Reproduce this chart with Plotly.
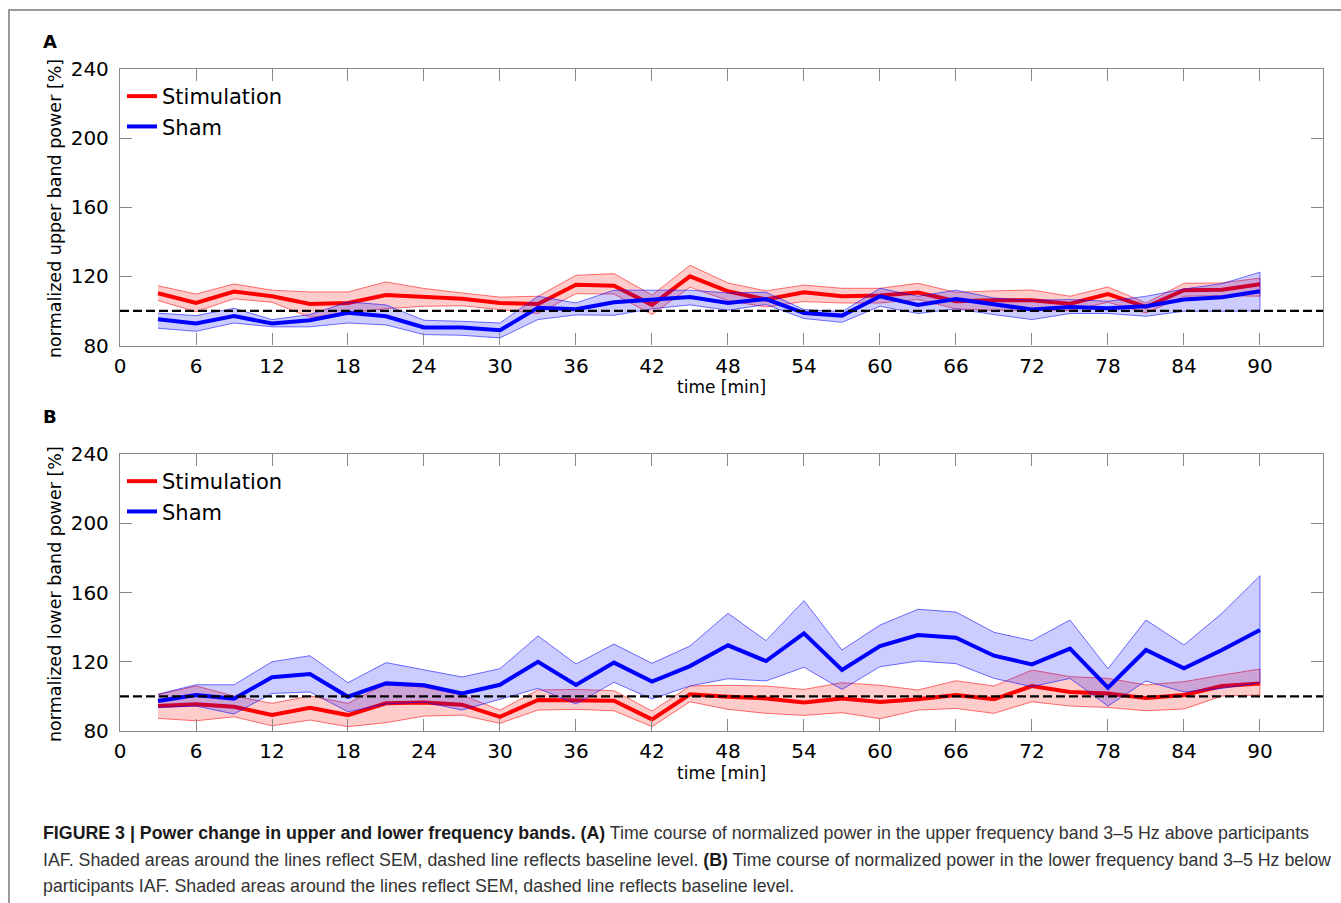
import plotly.graph_objects as go

# ---- data -------------------------------------------------------------
time_min = [3, 6, 9, 12, 15, 18, 21, 24, 27, 30, 33, 36, 39, 42, 45,
            48, 51, 54, 57, 60, 63, 66, 69, 72, 75, 78, 81, 84, 87, 90]

# Panel A: upper frequency band (mean and mean +/- SEM), % of baseline
stim_a_mean = [110.2, 104.6, 111.2, 108.5, 104.0, 104.6, 109.2, 108.0, 107.0, 104.6,
               104.0, 115.2, 114.6, 103.5, 120.0, 111.4, 106.6, 110.8, 108.5, 108.9,
               110.6, 105.6, 106.2, 106.2, 104.2, 109.8, 102.3, 112.0, 112.3, 115.4]
stim_a_hi = [114.6, 109.8, 115.6, 112.0, 111.0, 111.0, 116.8, 113.0, 110.4, 108.0,
             108.5, 120.6, 121.6, 109.2, 126.4, 116.2, 111.6, 115.0, 113.1, 113.1,
             116.0, 110.8, 111.6, 112.1, 108.5, 113.9, 104.6, 116.0, 116.2, 119.0]
stim_a_lo = [106.0, 99.6, 107.0, 105.0, 96.3, 98.8, 101.3, 102.7, 103.0, 100.8,
             98.5, 110.0, 109.8, 97.9, 113.7, 106.0, 102.3, 105.4, 104.6, 104.6,
             106.6, 101.2, 100.4, 100.4, 100.2, 105.0, 98.8, 108.5, 108.9, 108.5]
sham_a_mean = [95.2, 92.7, 97.1, 92.7, 94.6, 99.0, 96.9, 90.4, 90.4, 88.8,
               101.9, 101.0, 105.0, 106.6, 108.1, 104.6, 106.9, 98.8, 97.3, 108.5,
               103.4, 106.9, 103.7, 100.8, 102.3, 101.5, 102.7, 106.6, 107.9, 111.4]
sham_a_hi = [98.7, 97.3, 101.5, 95.0, 97.9, 105.2, 103.5, 94.6, 94.0, 93.0,
             108.5, 104.6, 112.0, 112.0, 112.0, 110.4, 110.8, 100.8, 99.6, 113.1,
             108.5, 112.0, 107.5, 106.2, 106.6, 105.6, 108.5, 112.7, 115.8, 122.4]
sham_a_lo = [90.0, 88.2, 93.0, 90.8, 90.8, 93.0, 91.9, 86.3, 85.9, 84.4,
             95.0, 97.7, 97.5, 101.2, 103.5, 100.4, 103.7, 95.6, 93.4, 102.7,
             98.5, 101.2, 97.9, 95.0, 98.5, 98.5, 96.9, 99.8, 99.8, 100.0]

# Panel B: lower frequency band
stim_b_mean = [94.4, 95.4, 94.0, 89.2, 93.4, 89.2, 96.0, 96.5, 95.2, 88.2,
               97.9, 97.9, 97.5, 86.7, 101.2, 99.8, 98.8, 96.5, 98.8, 96.7,
               98.3, 100.8, 98.3, 106.0, 102.5, 101.7, 99.0, 100.8, 106.0, 107.5]
stim_b_hi = [101.0, 106.0, 100.2, 96.0, 100.2, 96.0, 107.1, 105.2, 100.8, 92.1,
             103.7, 104.0, 103.3, 91.5, 106.0, 106.4, 106.0, 104.0, 107.9, 106.4,
             103.7, 109.0, 106.0, 115.2, 111.4, 110.4, 106.6, 108.5, 112.3, 115.8]
stim_b_lo = [87.3, 85.9, 88.2, 83.0, 86.3, 82.5, 84.8, 88.6, 89.2, 84.4,
             92.1, 92.5, 91.7, 82.5, 96.9, 92.5, 90.2, 89.0, 90.6, 87.1,
             92.1, 93.0, 90.2, 96.9, 94.4, 93.6, 91.7, 92.7, 100.2, 100.8]
sham_b_mean = [97.3, 100.8, 98.7, 111.0, 112.9, 99.8, 107.5, 106.4, 101.7, 106.7,
               120.0, 106.6, 119.5, 108.5, 117.5, 129.5, 120.4, 136.4, 115.2, 129.1,
               135.4, 133.9, 123.5, 118.5, 127.6, 105.0, 126.8, 116.2, 126.8, 138.3]
sham_b_hi = [101.3, 106.7, 106.7, 120.0, 123.5, 107.9, 119.5, 115.2, 111.2, 116.0,
             134.9, 118.7, 130.2, 119.1, 129.1, 148.0, 132.2, 155.3, 126.8, 141.2,
             150.3, 148.7, 137.0, 132.2, 144.1, 116.0, 144.1, 129.7, 148.0, 169.7]
sham_b_lo = [93.6, 94.4, 89.8, 101.7, 102.5, 91.1, 95.6, 96.7, 92.1, 98.3,
             104.6, 95.6, 108.1, 98.5, 106.0, 110.2, 108.9, 116.8, 104.0, 117.1,
             120.4, 118.9, 110.4, 105.6, 110.4, 94.4, 108.9, 102.5, 104.6, 107.9]

baseline = 100
x_ticks = [0, 6, 12, 18, 24, 30, 36, 42, 48, 54, 60, 66, 72, 78, 84, 90]
y_ticks = [80, 120, 160, 200, 240]
series_names = ["Stimulation", "Sham"]

# ---- layout helpers (pixel -> paper) ------------------------------------
W, H = 1341, 903


def px(x):
    return x / W


def py(y):
    return 1 - y / H


FONT = "DejaVu Sans"
RED, BLUE = "#ff0000", "#0000ff"

fig = go.Figure()


def add_panel(xa, ya, legend, s_mean, s_hi, s_lo, h_mean, h_hi, h_lo):
    for name, color, fill, edge, mean, hi, lo in [
        (series_names[0], RED, "rgba(255,0,0,0.2)", "rgba(255,0,0,0.55)", s_mean, s_hi, s_lo),
        (series_names[1], BLUE, "rgba(0,0,255,0.2)", "rgba(0,0,255,0.55)", h_mean, h_hi, h_lo),
    ]:
        fig.add_trace(go.Scatter(
            x=time_min + time_min[::-1], y=hi + lo[::-1],
            fill="toself", fillcolor=fill, mode="lines",
            line=dict(color=edge, width=1), hoverinfo="skip",
            showlegend=False, xaxis=xa, yaxis=ya))
        fig.add_trace(go.Scatter(
            x=time_min, y=mean, mode="lines", name=name,
            line=dict(color=color, width=4), legend=legend,
            xaxis=xa, yaxis=ya))
    fig.add_trace(go.Scatter(
        x=[0, 95], y=[baseline, baseline], mode="lines",
        line=dict(color="black", width=2.2, dash="9px,4px"),
        showlegend=False, hoverinfo="skip", xaxis=xa, yaxis=ya))


add_panel("x", "y", "legend", stim_a_mean, stim_a_hi, stim_a_lo,
          sham_a_mean, sham_a_hi, sham_a_lo)
add_panel("x2", "y2", "legend2", stim_b_mean, stim_b_hi, stim_b_lo,
          sham_b_mean, sham_b_hi, sham_b_lo)

axis_common = dict(
    showline=True, linecolor="#8a8a8a", linewidth=1.3, mirror="ticks",
    ticks="inside", ticklen=12, tickwidth=1.3, tickcolor="#8a8a8a",
    showgrid=False, zeroline=False, automargin=False,
    tickfont=dict(family=FONT, size=20, color="black"),
)
x_dom = [px(120), px(1323.3)]
ya_dom = [py(345.5), py(69)]
yb_dom = [py(731), py(454)]

legend_style = dict(xanchor="left", yanchor="top", bgcolor="rgba(0,0,0,0)",
                    font=dict(family=FONT, size=21), tracegroupgap=0)

fig.update_layout(
    width=W, height=H, autosize=False,
    margin=dict(l=0, r=0, t=0, b=0, pad=0),
    paper_bgcolor="white", plot_bgcolor="white",
    font=dict(family=FONT, color="black"),
    xaxis=dict(domain=x_dom, anchor="y", range=[0, 95], tickvals=x_ticks,
               ticklabelstandoff=2, **axis_common),
    yaxis=dict(domain=ya_dom, anchor="x", range=[80, 240], tickvals=y_ticks,
               ticklabelstandoff=6, **axis_common),
    xaxis2=dict(domain=x_dom, anchor="y2", range=[0, 95], tickvals=x_ticks,
                ticklabelstandoff=2, **axis_common),
    yaxis2=dict(domain=yb_dom, anchor="x2", range=[80, 240], tickvals=y_ticks,
                ticklabelstandoff=6, **axis_common),
    legend=dict(x=px(122), y=py(76), **legend_style),
    legend2=dict(x=px(122), y=py(461), **legend_style),
)

# outer figure frame
fig.add_shape(type="rect", xref="paper", yref="paper",
              x0=px(9), y0=py(10), x1=px(1360), y1=py(920),
              line=dict(color="#7a7a7a", width=1.5), fillcolor="rgba(0,0,0,0)",
              layer="below")

ann = []
# axis titles
for yc, label in [(209, "normalized upper band power [%]"),
                  (594, "normalized lower band power [%]")]:
    ann.append(dict(x=px(55), y=py(yc), text=label, textangle=-90,
                    font=dict(family=FONT, size=17.5, color="black")))
for yc in [387, 773]:
    ann.append(dict(x=px(721), y=py(yc), text="time [min]",
                    font=dict(family=FONT, size=17, color="black")))
# panel letters
for yc, letter in [(41, "A"), (416, "B")]:
    ann.append(dict(x=px(50), y=py(yc), text="<b>%s</b>" % letter,
                    font=dict(family=FONT, size=18, color="black")))

# caption
cap_font = dict(family="Liberation Sans, Arial", size=17.8, color="#333333")
caption_lines = [
    "<b><span style='color:#1a1a1a'>FIGURE 3 | Power change in upper and lower frequency bands. (A)</span></b>"
    " Time course of normalized power in the upper frequency band 3–5 Hz above participants",
    "IAF. Shaded areas around the lines reflect SEM, dashed line reflects baseline level. "
    "<b><span style='color:#1a1a1a'>(B)</span></b> Time course of normalized power in the lower frequency band 3–5 Hz below",
    "participants IAF. Shaded areas around the lines reflect SEM, dashed line reflects baseline level.",
]
for i, line in enumerate(caption_lines):
    ann.append(dict(x=px(41), y=py(833 + 26.5 * i), text=line,
                    xanchor="left", font=cap_font))

for a in ann:
    a.setdefault("xanchor", "center")
    a.update(xref="paper", yref="paper", showarrow=False, yanchor="middle")
fig.update_layout(annotations=ann)

# the page itself should add no margin or scrolling around the figure
page_js = (
    "document.documentElement.style.margin='0';"
    "document.documentElement.style.padding='0';"
    "document.documentElement.style.overflow='hidden';"
    "document.body.style.margin='0';"
    "document.body.style.padding='0';"
    "document.body.style.overflow='hidden';"
)
fig.write_html("out.html", post_script=page_js)
